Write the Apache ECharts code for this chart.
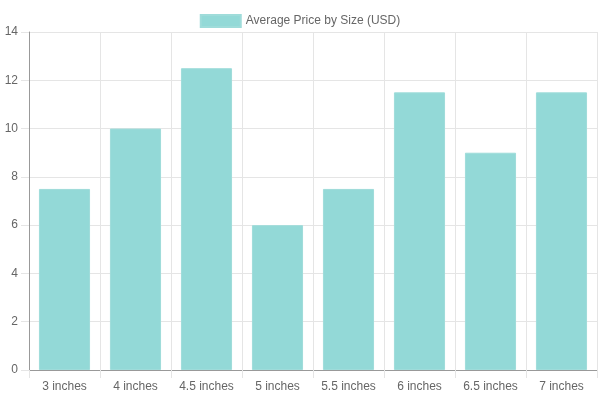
<!DOCTYPE html>
<html>
<head>
<meta charset="utf-8">
<script src="https://cdn.jsdelivr.net/npm/echarts@6/dist/echarts.min.js"></script>
<style>
  html, body { margin: 0; padding: 0; background: #fff; }
  #chart { width: 600px; height: 400px; }
</style>
</head>
<body>
<div id="chart"></div>
<script>
const sizes = ['3 inches', '4 inches', '4.5 inches', '5 inches', '5.5 inches', '6 inches', '6.5 inches', '7 inches']
const avgPrice = [7.5, 10, 12.5, 6, 7.5, 11.5, 9, 11.5]

const chart = echarts.init(document.getElementById('chart'))

const option = {
  animation: false,
  textStyle: { fontFamily: 'Liberation Sans, Arial, sans-serif' },
  legend: {
    top: 9,
    left: 'center',
    icon: 'rect',
    itemWidth: 40,
    itemHeight: 12,
    itemGap: 6,
    textStyle: { color: '#666', fontSize: 12 },
    data: ['Average Price by Size (USD)'],
  },
  grid: {
    left: 29,
    right: 3,
    top: 32,
    bottom: 30,
    containLabel: false,
  },
  xAxis: {
    type: 'category',
    data: sizes,
    boundaryGap: true,
    axisLine: { lineStyle: { color: '#999', width: 1 } },
    axisTick: { show: true, interval: 0, length: 8, lineStyle: { color: '#e5e5e5' } },
    axisLabel: { color: '#666', fontSize: 12, margin: 11, interval: 0 },
    splitLine: { show: true, interval: 0, lineStyle: { color: '#e5e5e5' } },
  },
  yAxis: {
    type: 'value',
    min: 0,
    max: 14,
    interval: 2,
    axisLine: { show: true, lineStyle: { color: '#999', width: 1 } },
    axisTick: { show: true, length: 8, lineStyle: { color: '#e5e5e5' } },
    axisLabel: { color: '#666', fontSize: 12, margin: 11 },
    splitLine: { show: true, lineStyle: { color: '#e5e5e5' } },
  },
  series: [
    {
      name: 'Average Price by Size (USD)',
      type: 'bar',
      data: avgPrice,
      barWidth: '72%',
      itemStyle: {
        color: '#93d9d7',
        borderColor: '#9fdcda',
        borderWidth: 1,
      },
    },
  ],
}

chart.setOption(option)
</script>
</body>
</html>
